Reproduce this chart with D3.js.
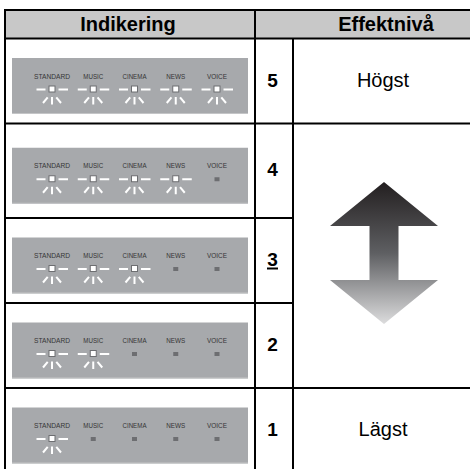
<!DOCTYPE html>
<html><head><meta charset="utf-8">
<script src="https://cdn.jsdelivr.net/npm/d3@7"></script>
<style>html,body{margin:0;padding:0;background:#fff;}svg{display:block;}</style>
</head><body>
<script>
// ---- data ----
const headers = ["Indikering", "Effektnivå"];
const levels = [5, 4, 3, 2, 1];
const modes = ["STANDARD", "MUSIC", "CINEMA", "NEWS", "VOICE"];
const litCounts = [5, 4, 3, 2, 1];
const levelTexts = ["Högst", "", "", "", "Lägst"];
const defaultLevel = 3;

const W = 470, H = 469;
const svg = d3.select("body").append("svg").attr("width", W).attr("height", H);

// layout
const xL = 5, xD1 = 255, xD2 = 293, xR = 474;
const yTop = 10, yHead = 38.5;
const rowHeights = [85, 94.5, 85, 85, 85];
const tops = [yHead, ...Array.from(d3.cumsum(rowHeights), v => yHead + v)];
const yTopOf = d3.scaleOrdinal().domain(levels).range(tops.slice(0, levels.length));
const hOf = d3.scaleOrdinal().domain(levels).range(rowHeights);
const mx = d3.scalePoint().domain(modes).range([52, 217]);

const font = "'Liberation Sans', Arial, sans-serif";

// header fill
svg.append("rect").attr("x", xL).attr("y", yTop).attr("width", xR - xL).attr("height", yHead - yTop).attr("fill", "#c8c8c8");

const panelX = 12, panelW = 236, panelH = 56;
const rows = svg.selectAll("g.row").data(levels.map((l, i) => ({ level: l, lit: litCounts[i], text: levelTexts[i] })))
  .join("g").attr("class", "row").attr("transform", d => `translate(0,${yTopOf(d.level)})`);

const labelW = { STANDARD: 36, MUSIC: 20, CINEMA: 24, NEWS: 19, VOICE: 20 };

rows.each(function (d) {
  const g = d3.select(this);
  const rc = hOf(d.level) / 2;        // row centre (local)
  const pc = rc + 5;                  // panel centre
  g.append("rect").attr("x", panelX).attr("y", pc - panelH / 2).attr("width", panelW).attr("height", panelH).attr("fill", "#a7a9ac");
  g.append("line").attr("x1", panelX).attr("x2", panelX + panelW).attr("y1", pc + panelH / 2 - 0.5).attr("y2", pc + panelH / 2 - 0.5)
    .attr("stroke", "#c4c5c7").attr("stroke-width", 1);
  const labelY = pc - 7.5, lightY = pc + 3.5;
  modes.forEach((m, i) => {
    const cx = mx(m);
    g.append("text").attr("x", cx).attr("y", labelY).attr("text-anchor", "middle")
      .attr("font-family", font).attr("font-size", 7).attr("fill", "#353535")
      .attr("textLength", labelW[m]).attr("lengthAdjust", "spacingAndGlyphs").text(m);
    if (i < d.lit) {
      const cy = lightY;
      const lg = g.append("g");
      const wl = [[cx - 15.5, cy, cx - 6.5, cy], [cx + 6.5, cy, cx + 16, cy],
        [cx, cy + 7.5, cx, cy + 15], [cx - 9, cy + 13.5, cx - 4.3, cy + 7.8], [cx + 9, cy + 13.5, cx + 4.3, cy + 7.8]];
      wl.forEach(p => lg.append("line").attr("x1", p[0]).attr("y1", p[1]).attr("x2", p[2]).attr("y2", p[3])
        .attr("stroke", "#fff").attr("stroke-width", 2));
      lg.append("rect").attr("x", cx - 3).attr("y", cy - 3.5).attr("width", 6).attr("height", 6)
        .attr("fill", "#fff").attr("stroke", "#6d6e71").attr("stroke-width", 1);
    } else {
      g.append("rect").attr("x", cx - 2.5).attr("y", lightY - 2).attr("width", 5).attr("height", 4).attr("fill", "#6d6e71");
    }
  });
  // level number
  const nx = (xD1 + xD2) / 2 - 1.5, by = rc + 5.5;
  g.append("text").attr("x", nx).attr("y", by).attr("text-anchor", "middle")
    .attr("font-family", font).attr("font-weight", "bold").attr("font-size", 19).attr("fill", "#000").text(d.level);
  if (d.level === defaultLevel) {
    g.append("line").attr("x1", nx - 5.5).attr("x2", nx + 5.5).attr("y1", by + 2.5).attr("y2", by + 2.5)
      .attr("stroke", "#000").attr("stroke-width", 2);
  }
  if (d.text) {
    g.append("text").attr("x", 383).attr("y", by).attr("text-anchor", "middle")
      .attr("font-family", font).attr("font-size", 20).attr("fill", "#000").text(d.text);
  }
});

// arrow (merged cell of levels 4..2)
const defs = svg.append("defs");
const grad = defs.append("linearGradient").attr("id", "ag").attr("x1", 0).attr("y1", 0).attr("x2", 0).attr("y2", 1);
grad.append("stop").attr("offset", "0%").attr("stop-color", "#231f20");
grad.append("stop").attr("offset", "50%").attr("stop-color", "#5e5f62");
grad.append("stop").attr("offset", "100%").attr("stop-color", "#dcdcdd");
const acx = 384, aTop = yTopOf(4) + 58.5, aBot = aTop + 142;
const headW = 54, headH = 44, shaftW = 14.5;
const ap = [[acx, aTop], [acx + headW, aTop + headH], [acx + shaftW, aTop + headH], [acx + shaftW, aBot - headH],
  [acx + headW, aBot - headH], [acx, aBot], [acx - headW, aBot - headH], [acx - shaftW, aBot - headH],
  [acx - shaftW, aTop + headH], [acx - headW, aTop + headH]];
svg.append("path").attr("d", d3.line()(ap) + "Z").attr("fill", "url(#ag)");

// header text
svg.append("text").attr("x", 128).attr("y", 31).attr("text-anchor", "middle").attr("font-family", font)
  .attr("font-weight", "bold").attr("font-size", 20).text(headers[0]);
svg.append("text").attr("x", 386).attr("y", 31).attr("text-anchor", "middle").attr("font-family", font)
  .attr("font-weight", "bold").attr("font-size", 20).text(headers[1]);

// grid lines
const lines = svg.append("g").attr("stroke", "#000").attr("stroke-width", 2).attr("fill", "none");
const yBot = tops[tops.length - 1];
lines.append("line").attr("x1", xL - 1).attr("x2", xR).attr("y1", yTop).attr("y2", yTop);
lines.append("line").attr("x1", xL).attr("x2", xR).attr("y1", yHead).attr("y2", yHead);
lines.append("line").attr("x1", xL).attr("x2", xL).attr("y1", yTop).attr("y2", yBot);
lines.append("line").attr("x1", xD1).attr("x2", xD1).attr("y1", yTop).attr("y2", yBot);
lines.append("line").attr("x1", xD2).attr("x2", xD2).attr("y1", yHead).attr("y2", yBot);
levels.slice(1).forEach(l => {
  const full = (l === 4 || l === 1);
  lines.append("line").attr("x1", xL).attr("x2", full ? xR : xD2).attr("y1", yTopOf(l)).attr("y2", yTopOf(l));
});
</script>
</body></html>
